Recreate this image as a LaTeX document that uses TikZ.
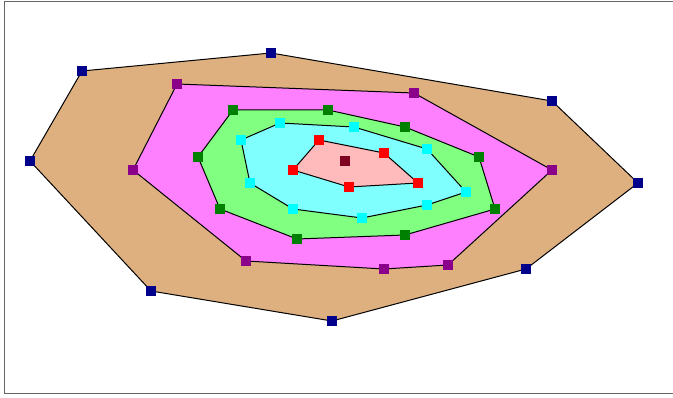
\documentclass[tikz,border=0pt]{standalone}
\usetikzlibrary{calc}
\definecolor{tanCol}{RGB}{222,176,128}
\definecolor{pinkCol}{RGB}{255,128,255}
\definecolor{lgreenCol}{RGB}{128,255,128}
\definecolor{lcyanCol}{RGB}{128,255,255}
\definecolor{roseCol}{RGB}{255,187,187}
\definecolor{navyCol}{RGB}{0,0,139}
\definecolor{purpCol}{RGB}{139,0,139}
\definecolor{dgreenCol}{RGB}{0,128,0}
\definecolor{cyanCol}{RGB}{0,255,255}
\definecolor{redCol}{RGB}{255,0,0}
\definecolor{maroonCol}{RGB}{128,0,32}
\tikzset{
  ring/.style={draw=black,line width=1pt,line join=miter},
  mk/.style={rectangle,inner sep=0pt,minimum size=10pt},
  frame/.style={draw=black!60,line width=1pt},
}

\begin{document}
\begin{tikzpicture}[x=1pt,y=-1pt]
    \useasboundingbox (0,0) rectangle (673,398);
    % outer frame (right side runs off the page)
    \draw[frame] (676,2) -- (4,2) -- (4,394) -- (676,394);
    % hull points, outermost first
    \foreach \n/\p in {1/{82,71},2/{271,53},3/{552,101},4/{638,183},5/{526,269},6/{332,321},7/{151,291},8/{30,161}}
       \coordinate (a\n) at (\p);
    \foreach \n/\p in {1/{177,84},2/{414,93},3/{552,170},4/{448,265},5/{384,269},6/{246,261},7/{133,170}}
       \coordinate (b\n) at (\p);
    \foreach \n/\p in {1/{233,110},2/{328,110},3/{405,127},4/{479,157},5/{495,209},6/{405,235},7/{297,239},8/{220,209},9/{198,157}}
       \coordinate (c\n) at (\p);
    \foreach \n/\p in {1/{280,123},2/{354,127},3/{427,149},4/{466,192},5/{427,205},6/{362,218},7/{293,209},8/{250,183},9/{241,140}}
       \coordinate (d\n) at (\p);
    \foreach \n/\p in {1/{319,140},2/{384,153},3/{418,183},4/{349,187},5/{293,170}}
       \coordinate (e\n) at (\p);
    \coordinate (core) at (345,161);
    % nested layers
    \filldraw[ring,fill=tanCol] (a1) -- (a2) -- (a3) -- (a4) -- (a5) -- (a6) -- (a7) -- (a8) -- cycle;
    \filldraw[ring,fill=pinkCol] (b1) -- (b2) -- (b3) -- (b4) -- (b5) -- (b6) -- (b7) -- cycle;
    \filldraw[ring,fill=lgreenCol] (c1) -- (c2) -- (c3) -- (c4) -- (c5) -- (c6) -- (c7) -- (c8) -- (c9) -- cycle;
    \filldraw[ring,fill=lcyanCol] (d1) -- (d2) -- (d3) -- (d4) -- (d5) -- (d6) -- (d7) -- (d8) -- (d9) -- cycle;
    \filldraw[ring,fill=roseCol] (e1) -- (e2) -- (e3) -- (e4) -- (e5) -- cycle;
    % markers
    \foreach \n in {1,...,8} \node[mk,fill=navyCol] (ma\n) at (a\n) {};
    \foreach \n in {1,...,7} \node[mk,fill=purpCol] (mb\n) at (b\n) {};
    \foreach \n in {1,...,9} \node[mk,fill=dgreenCol] (mc\n) at (c\n) {};
    \foreach \n in {1,...,9} \node[mk,fill=cyanCol] (md\n) at (d\n) {};
    \foreach \n in {1,...,5} \node[mk,fill=redCol] (me\n) at (e\n) {};
    \node[mk,fill=maroonCol] (mcore) at (core) {};
  \end{tikzpicture}
\end{document}
